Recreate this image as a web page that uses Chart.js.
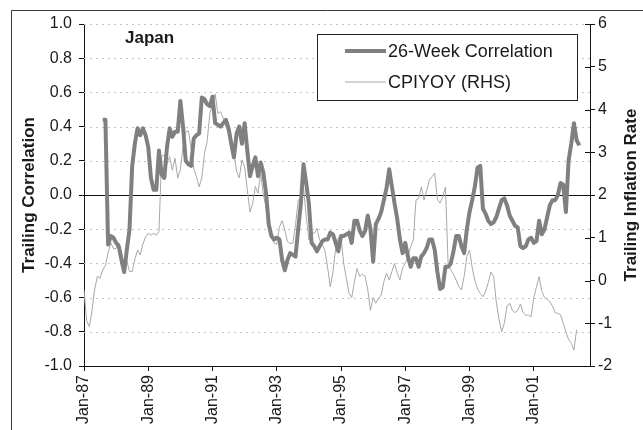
<!DOCTYPE html>
<html><head><meta charset="utf-8">
<script src="https://cdn.jsdelivr.net/npm/chart.js@4"></script>
<style>html,body{margin:0;padding:0;background:#fff}#wrap{width:643px;height:430px;position:relative}</style>
</head><body><div id="wrap"><canvas id="c" width="643" height="430"></canvas></div>
<script>
// ---- data ----
const startYear = 1987;
const monthCount = 190;            // Jan-87 .. Oct-02
const monthNames = ['Jan','Feb','Mar','Apr','May','Jun','Jul','Aug','Sep','Oct','Nov','Dec'];
const categories = [];
for (let i = 0; i < monthCount; i++) {
  const yr = startYear + Math.floor(i / 12);
  categories.push(monthNames[i % 12] + '-' + String(yr % 100).padStart(2, '0'));
}
const labelEvery = 24;

const correlation = [
  null,null,null,null,null,null,null,
  0.44,0.44,-0.29,-0.24,-0.25,-0.28,-0.30,-0.38,-0.45,-0.32,-0.20,0.17,0.30,0.39,
  0.35,0.39,0.35,0.28,0.10,0.03,0.03,0.26,0.12,0.10,0.28,0.39,0.34,0.37,0.37,
  0.55,0.40,0.20,0.18,0.17,0.33,0.35,0.36,0.57,0.56,0.53,0.52,0.575,0.42,0.41,
  0.40,0.42,0.44,0.39,0.30,0.22,0.36,0.40,0.30,0.42,0.26,0.11,0.17,0.22,0.11,
  0.19,0.13,0.01,-0.17,-0.24,-0.26,-0.25,-0.26,-0.38,-0.44,-0.38,-0.34,-0.35,-0.36,
  -0.20,-0.05,0.18,0.07,-0.05,-0.28,-0.30,-0.33,-0.30,-0.27,-0.26,-0.26,-0.22,-0.23,
  -0.28,-0.33,-0.24,-0.24,-0.23,-0.22,-0.28,-0.15,-0.15,-0.21,-0.24,-0.21,-0.12,
  -0.20,-0.39,-0.17,-0.14,-0.10,-0.03,0.04,0.15,0.05,-0.05,-0.14,-0.26,-0.34,
  -0.28,-0.36,-0.42,-0.37,-0.37,-0.42,-0.36,-0.34,-0.31,-0.26,-0.26,-0.32,-0.45,
  -0.55,-0.54,-0.42,-0.42,-0.40,-0.33,-0.24,-0.24,-0.30,-0.34,-0.20,-0.10,-0.03,
  0.05,0.16,0.17,-0.08,-0.11,-0.15,-0.17,-0.16,-0.13,-0.08,-0.03,-0.02,-0.06,
  -0.12,-0.15,-0.18,-0.19,-0.30,-0.31,-0.30,-0.26,-0.25,-0.28,-0.27,-0.15,-0.23,
  -0.20,-0.13,-0.06,-0.03,-0.03,0.00,0.07,0.06,-0.10,0.20,0.30,0.42,0.32,0.29,
  null,null,null,null
];

const cpiYoY = [
  -0.22,-0.95,-1.08,-0.70,-0.20,0.10,0.05,0.25,0.35,0.65,0.88,0.75,0.75,0.88,0.67,
  0.35,0.45,0.21,0.21,0.50,0.71,0.60,0.85,1.02,1.10,1.06,1.10,1.06,1.14,2.90,
  2.94,2.74,2.90,2.58,2.86,2.40,2.60,3.13,3.48,3.50,3.10,2.62,2.43,2.19,2.40,
  2.97,3.25,3.91,4.10,4.36,3.91,3.95,3.80,3.60,3.45,3.30,3.00,2.55,2.40,2.82,
  2.66,2.12,1.60,1.80,2.20,2.04,2.51,2.00,1.73,1.34,1.03,0.87,0.85,1.25,1.40,
  1.18,0.91,0.87,0.87,1.30,1.88,1.92,2.19,1.50,0.95,1.15,1.10,1.22,0.95,0.85,
  0.70,0.30,-0.15,0.20,0.75,1.00,1.03,0.40,0.05,-0.30,-0.40,-0.03,0.28,0.09,0.15,
  0.10,-0.22,-0.70,-0.40,-0.53,-0.42,-0.34,-0.03,0.17,0.01,0.21,0.40,0.17,0.01,
  0.30,0.40,0.56,0.79,0.95,1.88,1.92,2.19,1.88,2.10,2.35,2.43,2.51,1.90,1.81,
  1.96,2.19,0.40,0.25,0.15,0.01,-0.14,-0.22,0.10,0.56,0.71,0.30,0.00,-0.20,-0.30,
  -0.38,-0.25,-0.05,0.20,0.10,-0.50,-0.90,-1.20,-1.00,-0.60,-0.53,-0.70,-0.75,
  -0.70,-0.55,-0.75,-0.81,-0.81,-0.85,-0.40,-0.15,0.09,-0.25,-0.40,-0.44,-0.50,
  -0.60,-0.75,-0.77,-0.80,-1.00,-1.20,-1.38,-1.47,-1.63,-1.15,
  null,null,null,null,null
];

const seriesNames = ['26-Week Correlation', 'CPIYOY (RHS)'];
const chartTitle = 'Japan';
const leftAxisTitle = 'Trailing Correlation';
const rightAxisTitle = 'Trailing Inflation Rate';
const leftRange = [-1, 1, 0.2];
const rightRange = [-2, 6, 1];

// ---- styling ----
const FONT = '"Liberation Sans", Arial, Helvetica, sans-serif';
const TXT = '#1a1a1a';

const decor = {
  id: 'decor',
  beforeDraw(chart) {
    const c = chart.ctx;
    c.save();
    c.fillStyle = '#fff';
    c.fillRect(0, 0, chart.width, chart.height);
    c.strokeStyle = '#3a3a3a';
    c.lineWidth = 1;
    c.beginPath();
    c.moveTo(11.5, chart.height);
    c.lineTo(11.5, 10.5);
    c.lineTo(chart.width, 10.5);
    c.stroke();
    c.restore();
  },
  beforeDatasetsDraw(chart) {
    const c = chart.ctx, a = chart.chartArea, y = chart.scales.y;
    c.save();
    y.ticks.forEach(t => {
      const py = Math.round(y.getPixelForValue(t.value)) + 0.5;
      if (Math.abs(t.value) < 1e-9) return;
      if (Math.abs(t.value - y.min) < 1e-9) return;
      c.strokeStyle = '#c4c4c4';
      c.lineWidth = 1;
      c.setLineDash([2, 4]);
      c.beginPath(); c.moveTo(a.left, py); c.lineTo(a.right, py); c.stroke();
    });
    c.setLineDash([]);
    const z = Math.round(y.getPixelForValue(0)) + 0.5;
    c.strokeStyle = '#111';
    c.beginPath(); c.moveTo(a.left, z); c.lineTo(a.right, z); c.stroke();
    c.restore();
  },
  afterDraw(chart) {
    const c = chart.ctx, a = chart.chartArea, y2 = chart.scales.y2;
    c.save();
    // inner tick marks on right axis
    c.strokeStyle = '#111'; c.lineWidth = 1;
    y2.ticks.forEach(t => {
      const py = Math.round(y2.getPixelForValue(t.value)) + 0.5;
      c.beginPath(); c.moveTo(a.right - 5, py); c.lineTo(a.right, py); c.stroke();
    });
    // right axis title
    c.fillStyle = TXT;
    c.font = 'bold 17px ' + FONT;
    c.textAlign = 'center'; c.textBaseline = 'middle';
    c.translate(631, (a.top + a.bottom) / 2);
    c.rotate(-Math.PI / 2);
    c.fillText(rightAxisTitle, 0, 0);
    c.setTransform(1, 0, 0, 1, 0, 0);
    // chart title
    c.font = 'bold 17px ' + FONT;
    c.textAlign = 'left';
    c.fillText(chartTitle, 125, 38);
    // legend
    const bx = 317.5, by = 34.5, bw = 260, bh = 66;
    c.fillStyle = '#fff';
    c.fillRect(bx, by, bw, bh);
    c.strokeStyle = '#222'; c.lineWidth = 1;
    c.strokeRect(bx, by, bw, bh);
    const rows = [51, 82];
    chart.data.datasets.forEach((ds, i) => {
      c.strokeStyle = ds.borderColor;
      c.lineWidth = ds.borderWidth;
      c.beginPath(); c.moveTo(345, rows[i]); c.lineTo(386, rows[i]); c.stroke();
      c.fillStyle = TXT;
      c.font = '18px ' + FONT;
      c.textAlign = 'left'; c.textBaseline = 'middle';
      c.fillText(ds.label, 388, rows[i] + 1);
    });
    c.restore();
  }
};

new Chart(document.getElementById('c'), {
  type: 'line',
  data: {
    labels: categories,
    datasets: [
      { label: seriesNames[0], data: correlation, yAxisID: 'y',
        borderColor: '#808080', borderWidth: 4, pointRadius: 0, tension: 0,
        borderJoinStyle: 'round', borderCapStyle: 'butt', fill: false },
      { label: seriesNames[1], data: cpiYoY, yAxisID: 'y2',
        borderColor: '#a8a8a8', borderWidth: 1, pointRadius: 0, tension: 0, fill: false }
    ]
  },
  options: {
    responsive: false,
    devicePixelRatio: 1,
    animation: false,
    layout: { padding: { top: 24, left: 0, right: 0, bottom: 0 } },
    plugins: { legend: { display: false }, tooltip: { enabled: false }, title: { display: false } },
    scales: {
      x: {
        type: 'category', offset: false,
        grid: { drawOnChartArea: false, drawTicks: true, tickLength: 5, color: 'rgba(0,0,0,0)',
                tickColor: ctx => (ctx.index % labelEvery === 0 ? '#111' : 'rgba(0,0,0,0)') },
        border: { display: true, color: '#111', width: 1 },
        ticks: { autoSkip: false, maxRotation: 90, minRotation: 90, padding: 4,
                 color: TXT, font: { family: FONT, size: 16 },
                 callback: (v, i) => (i % labelEvery === 0 ? categories[i] : '') },
        afterFit: s => { s.height = 64; }
      },
      y: {
        position: 'left', min: leftRange[0], max: leftRange[1],
        grid: { drawOnChartArea: false, drawTicks: true, tickLength: 5, tickColor: '#111' },
        border: { display: true, color: '#111', width: 1 },
        ticks: { stepSize: leftRange[2], padding: 7, color: TXT, font: { family: FONT, size: 16 },
                 callback: v => (Math.abs(v) < 1e-9 ? 0 : v).toFixed(1) },
        title: { display: true, text: leftAxisTitle, color: TXT,
                 font: { family: FONT, size: 17, weight: 'bold' }, padding: { top: 19, bottom: 0 } },
        afterFit: s => { s.width = 84; }
      },
      y2: {
        position: 'right', min: rightRange[0], max: rightRange[1],
        grid: { drawOnChartArea: false, drawTicks: true, tickLength: 5, tickColor: '#111' },
        border: { display: true, color: '#111', width: 1 },
        ticks: { stepSize: rightRange[2], padding: 3, color: TXT, font: { family: FONT, size: 16 } },
        afterFit: s => { s.width = 53; }
      }
    }
  },
  plugins: [decor]
});
</script>
</body></html>
